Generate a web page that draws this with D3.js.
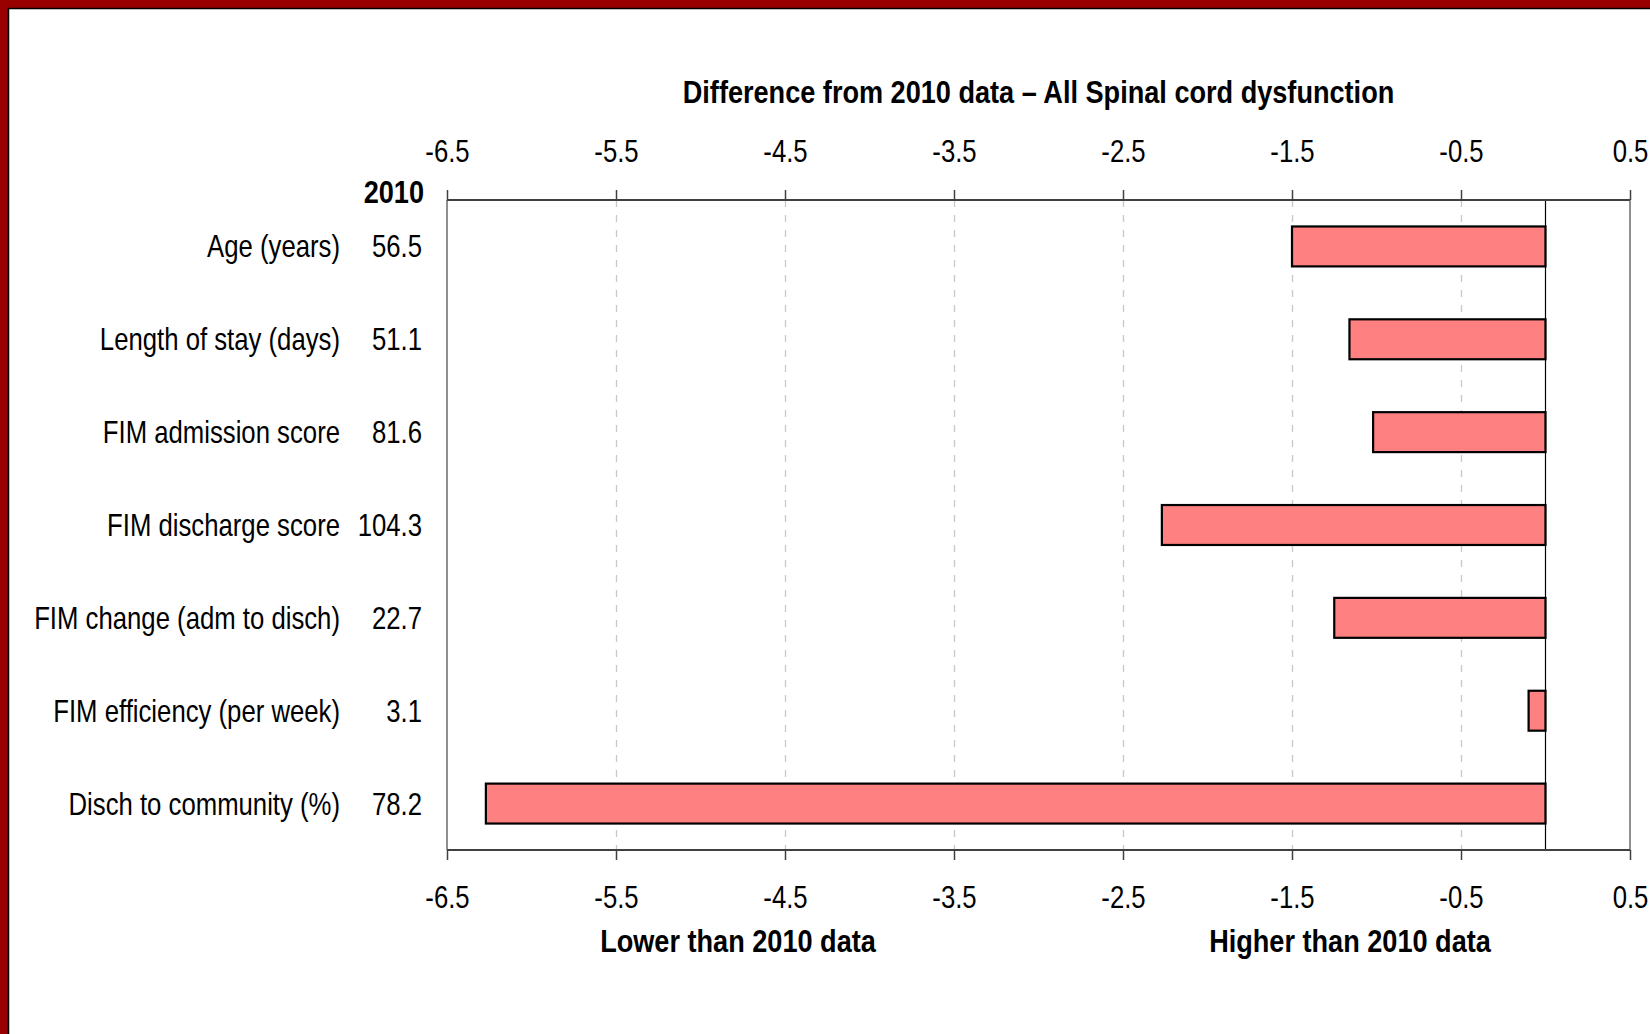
<!DOCTYPE html>
<html>
<head>
<meta charset="utf-8">
<script src="https://cdn.jsdelivr.net/npm/d3@7"></script>
<style>
  html, body { margin: 0; padding: 0; background: #fff; }
  svg { display: block; }
  text { font-family: "Liberation Sans", Arial, sans-serif; fill: #000; }
</style>
</head>
<body>
<svg id="chart" width="1650" height="1034"></svg>
<script>
// ---- data ----
const categories = ["Age (years)", "Length of stay (days)", "FIM admission score", "FIM discharge score",
                    "FIM change (adm to disch)", "FIM efficiency (per week)", "Disch to community (%)"];
const baseline2010 = ["56.5", "51.1", "81.6", "104.3", "22.7", "3.1", "78.2"];
const differences = [-1.50, -1.16, -1.02, -2.27, -1.25, -0.10, -6.27];
const tickValues = [-6.5, -5.5, -4.5, -3.5, -2.5, -1.5, -0.5, 0.5];
const titleText = "Difference from 2010 data \u2013 All Spinal cord dysfunction";
const baselineHeader = "2010";
const lowerLabel = "Lower than 2010 data";
const higherLabel = "Higher than 2010 data";

// ---- layout ----
const W = 1650, H = 1034;
const plot = { left: 447, right: 1630, top: 200, bottom: 850 };
const NARROW = 0.83;       // horizontal compression emulating a narrow typeface
const NARROW_BOLD = 0.875;
const FS = 31;
const svg = d3.select("#chart");

function label(g, px, py, str, anchor, bold) {
  return g.append("text")
    .attr("transform", `translate(${px},${py}) scale(${bold ? NARROW_BOLD : NARROW},1)`)
    .attr("text-anchor", anchor)
    .attr("font-size", FS)
    .attr("font-weight", bold ? "bold" : "normal")
    .text(str);
}

// frame border (red, top & left)
svg.append("rect").attr("x", 0).attr("y", 0).attr("width", W).attr("height", 8).attr("fill", "#990000");
svg.append("rect").attr("x", 0).attr("y", 0).attr("width", 8).attr("height", H).attr("fill", "#990000");
svg.append("line").attr("x1", 8).attr("x2", W).attr("y1", 8.5).attr("y2", 8.5).attr("stroke", "#000").attr("stroke-width", 1.5);
svg.append("line").attr("x1", 8.5).attr("x2", 8.5).attr("y1", 8).attr("y2", H).attr("stroke", "#000").attr("stroke-width", 1.5);

const x = d3.scaleLinear().domain([-6.5, 0.5]).range([plot.left, plot.right]);
const y = d3.scaleBand().domain(categories).range([plot.top, plot.bottom])
  .paddingInner(0.57).paddingOuter(0.285);

const fmt = d => d.toFixed(1);

// gridlines
svg.append("g").selectAll("line")
  .data(tickValues.slice(1, -1))
  .join("line")
  .attr("x1", d => Math.round(x(d)) + 0.5).attr("x2", d => Math.round(x(d)) + 0.5)
  .attr("y1", plot.top).attr("y2", plot.bottom)
  .attr("stroke", "#c8c8c8").attr("stroke-width", 1.3).attr("stroke-dasharray", "7,8");

// left/right frame lines
svg.append("line").attr("x1", plot.left).attr("x2", plot.left).attr("y1", plot.top).attr("y2", plot.bottom)
  .attr("stroke", "#909090").attr("stroke-width", 2);
svg.append("line").attr("x1", plot.right).attr("x2", plot.right).attr("y1", plot.top).attr("y2", plot.bottom)
  .attr("stroke", "#909090").attr("stroke-width", 2);

// bars
svg.append("g").selectAll("rect")
  .data(differences)
  .join("rect")
  .attr("x", d => x(Math.min(0, d)))
  .attr("width", d => Math.abs(x(d) - x(0)))
  .attr("y", (d, i) => y(categories[i]))
  .attr("height", y.bandwidth())
  .attr("fill", "#ff8080").attr("stroke", "#000").attr("stroke-width", 2.2);

// zero line
svg.append("line").attr("x1", x(0)).attr("x2", x(0)).attr("y1", plot.top).attr("y2", plot.bottom)
  .attr("stroke", "#000").attr("stroke-width", 1.2);

// axes
const topAxis = svg.append("g").attr("transform", `translate(0,${plot.top})`)
  .call(d3.axisTop(x).tickValues(tickValues).tickFormat(fmt).tickSize(10).tickPadding(28).tickSizeOuter(0));
const bottomAxis = svg.append("g").attr("transform", `translate(0,${plot.bottom})`)
  .call(d3.axisBottom(x).tickValues(tickValues).tickFormat(fmt).tickSize(10).tickPadding(26).tickSizeOuter(0));
[topAxis, bottomAxis].forEach(a => {
  a.attr("font-family", null).attr("font-size", null);
  a.select(".domain").attr("stroke", "#404040").attr("stroke-width", 2)
    .attr("d", `M${plot.left},0H${plot.right}`);
  a.selectAll(".tick line").attr("stroke", "#404040").attr("stroke-width", 1.5);
  a.selectAll(".tick text").attr("font-size", FS).attr("fill", "#000")
    .attr("transform", `scale(${NARROW},1)`);
});

// category labels & 2010 values
const lab = svg.append("g");
categories.forEach((c, i) => {
  const cy = y(c) + y.bandwidth() / 2 + 11;
  label(lab, 340, cy, c, "end", false);
  label(lab, 422, cy, baseline2010[i], "end", false);
});
label(svg, 424, 203, baselineHeader, "end", true);

// titles
label(svg, (plot.left + plot.right) / 2, 103, titleText, "middle", true);
label(svg, 738, 952, lowerLabel, "middle", true);
label(svg, 1350, 952, higherLabel, "middle", true);
</script>
</body>
</html>
